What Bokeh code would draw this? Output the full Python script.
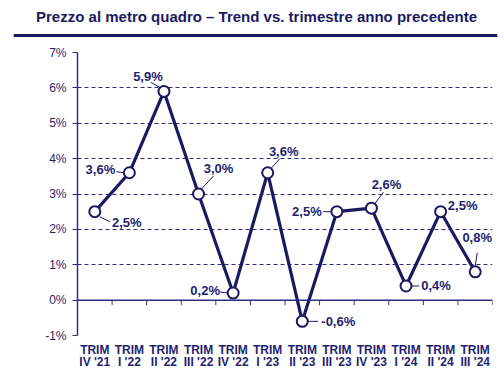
from bokeh.plotting import figure
from bokeh.models import ColumnDataSource, FixedTicker, Range1d, Span
from bokeh.layouts import column
from bokeh.core.properties import value
from bokeh.embed import file_html
from bokeh.resources import INLINE

categories = ["IV '21", "I '22", "II '22", "III '22", "IV '22", "I '23",
              "II '23", "III '23", "IV '23", "I '24", "II '24", "III '24"]
values = [2.5, 3.6, 5.9, 3.0, 0.2, 3.6, -0.6, 2.5, 2.6, 0.4, 2.5, 0.8]
value_labels = ["2,5%", "3,6%", "5,9%", "3,0%", "0,2%", "3,6%",
                "-0,6%", "2,5%", "2,6%", "0,4%", "2,5%", "0,8%"]
y_ticks = [-1, 0, 1, 2, 3, 4, 5, 6, 7]
title_text = "Prezzo al metro quadro \u2013 Trend vs. trimestre anno precedente"

NAVY = "#1a1a62"
TEXT = "#1f1f70"
GRID = "#2e2e86"
FONT = "Liberation Sans"

# style: label offsets in pixels (right, down)
lab_dx = [32, -29, -16, 20, -28, 16, 36, -30, 15, 30, 22, 2]
lab_dy = [11, -3, -15, -26, -3, -21, 0, 0, -24, 0, -6, -34]
# style: leader lines offsets in pixels (x0, y0, x1, y1), down positive
leaders = [(5, 5, 15, 10), (-13, -1, -5, 0), (-13, -9, -4, -4), (2, -4, 15, -18),
           (-13, -1, -5, 0), (3, -4, 12, -14), (5, 0, 16, 0), (-14, 0, -5, 0),
           (3, -4, 12, -16), (5, 0, 13, 0), (0, 0, 0, 0), (0, -6, 2, -19)]

W = 504
H_TITLE = 40
H = 376 - H_TITLE
LEFT, RIGHT, TOP, BOTTOM = 77, 12, 12, 41
n = len(categories)
ymin, ymax = y_ticks[0], y_ticks[-1]
fw = W - LEFT - RIGHT
fh = H - TOP - BOTTOM
pxx = fw / n
pxy = fh / (ymax - ymin)

# ---- title strip ----
TL, TR = 13, 7
tw = W - TL - TR
t = figure(width=W, height=H_TITLE, output_backend="svg", toolbar_location=None,
           x_range=Range1d(0, tw), y_range=Range1d(0, H_TITLE),
           x_axis_type=None, y_axis_type=None,
           min_border_left=TL, min_border_right=TR, min_border_top=0, min_border_bottom=0)
t.frame_align = False
t.outline_line_color = None
t.xgrid.grid_line_color = None
t.ygrid.grid_line_color = None
t.text(x=[tw / 2 + 1], y=[H_TITLE - 16], text=[title_text], text_align="center",
       text_baseline="middle", text_font=value(FONT), text_font_size="15px",
       text_font_style="bold", text_color=NAVY)
t.quad(left=[0], right=[tw], top=[H_TITLE - 33.5], bottom=[H_TITLE - 36.5],
       fill_color=NAVY, line_color=None)

# ---- chart ----
xs = list(range(n))
src = ColumnDataSource(dict(x=xs, y=values, lab=value_labels, dx=lab_dx, dy=lab_dy))
lsrc = ColumnDataSource(dict(
    x0=[i + l[0] / pxx for i, l in zip(xs, leaders)],
    y0=[v - l[1] / pxy for v, l in zip(values, leaders)],
    x1=[i + l[2] / pxx for i, l in zip(xs, leaders)],
    y1=[v - l[3] / pxy for v, l in zip(values, leaders)],
))

p = figure(width=W, height=H, output_backend="svg", toolbar_location=None,
           x_range=Range1d(-0.5, n - 0.5), y_range=Range1d(ymin, ymax),
           min_border_left=LEFT, min_border_right=RIGHT,
           min_border_top=TOP, min_border_bottom=BOTTOM)
p.frame_align = False
p.outline_line_color = None
p.background_fill_color = "white"
p.border_fill_color = "white"

p.xgrid.grid_line_color = None
p.ygrid.ticker = FixedTicker(ticks=y_ticks)
p.ygrid.grid_line_color = GRID
p.ygrid.grid_line_dash = "4 3"
p.ygrid.grid_line_width = 1

p.yaxis.ticker = FixedTicker(ticks=y_ticks)
p.yaxis.major_label_overrides = {tk: f"{tk}%" for tk in y_ticks}
p.yaxis.axis_line_color = GRID
p.yaxis.axis_line_width = 1.5
p.yaxis.major_tick_line_color = GRID
p.yaxis.major_tick_out = 5
p.yaxis.major_tick_in = 0
p.yaxis.minor_tick_line_color = None
p.yaxis.major_label_standoff = 6
p.yaxis.major_label_text_font = FONT
p.yaxis.major_label_text_font_size = "12px"
p.yaxis.major_label_text_color = TEXT

p.xaxis.ticker = FixedTicker(ticks=xs)
p.xaxis.major_label_overrides = {i: "TRIM\n" + c for i, c in enumerate(categories)}
p.xaxis.axis_line_color = None
p.xaxis.major_tick_line_color = None
p.xaxis.major_tick_out = 0
p.xaxis.major_tick_in = 0
p.xaxis.minor_tick_line_color = None
p.xaxis.minor_tick_out = 0
p.xaxis.major_label_standoff = 7
p.xaxis.major_label_text_font = FONT
p.xaxis.major_label_text_font_size = "12px"
p.xaxis.major_label_text_font_style = "bold"
p.xaxis.major_label_text_color = TEXT
p.xaxis.major_label_text_line_height = 0.9

p.add_layout(Span(location=0, dimension="width", line_color=GRID, line_width=1.5))
bounds = [i + 0.5 for i in xs]
p.segment(x0=bounds, y0=[0] * n, x1=bounds, y1=[-5 / pxy] * n,
          line_color=GRID, line_width=1)

p.line("x", "y", source=src, line_color=NAVY, line_width=3.2)
p.segment("x0", "y0", "x1", "y1", source=lsrc, line_color=NAVY, line_width=1)
p.scatter("x", "y", source=src, size=11, marker="circle",
          fill_color="white", line_color=NAVY, line_width=2)
p.text("x", "y", text="lab", source=src, x_offset="dx", y_offset="dy",
       text_align="center", text_baseline="middle",
       text_font=value(FONT), text_font_size="13px", text_font_style="bold",
       text_color=TEXT)

layout = column(t, p, spacing=0)
open("out.html", "w").write(file_html(layout, INLINE))
